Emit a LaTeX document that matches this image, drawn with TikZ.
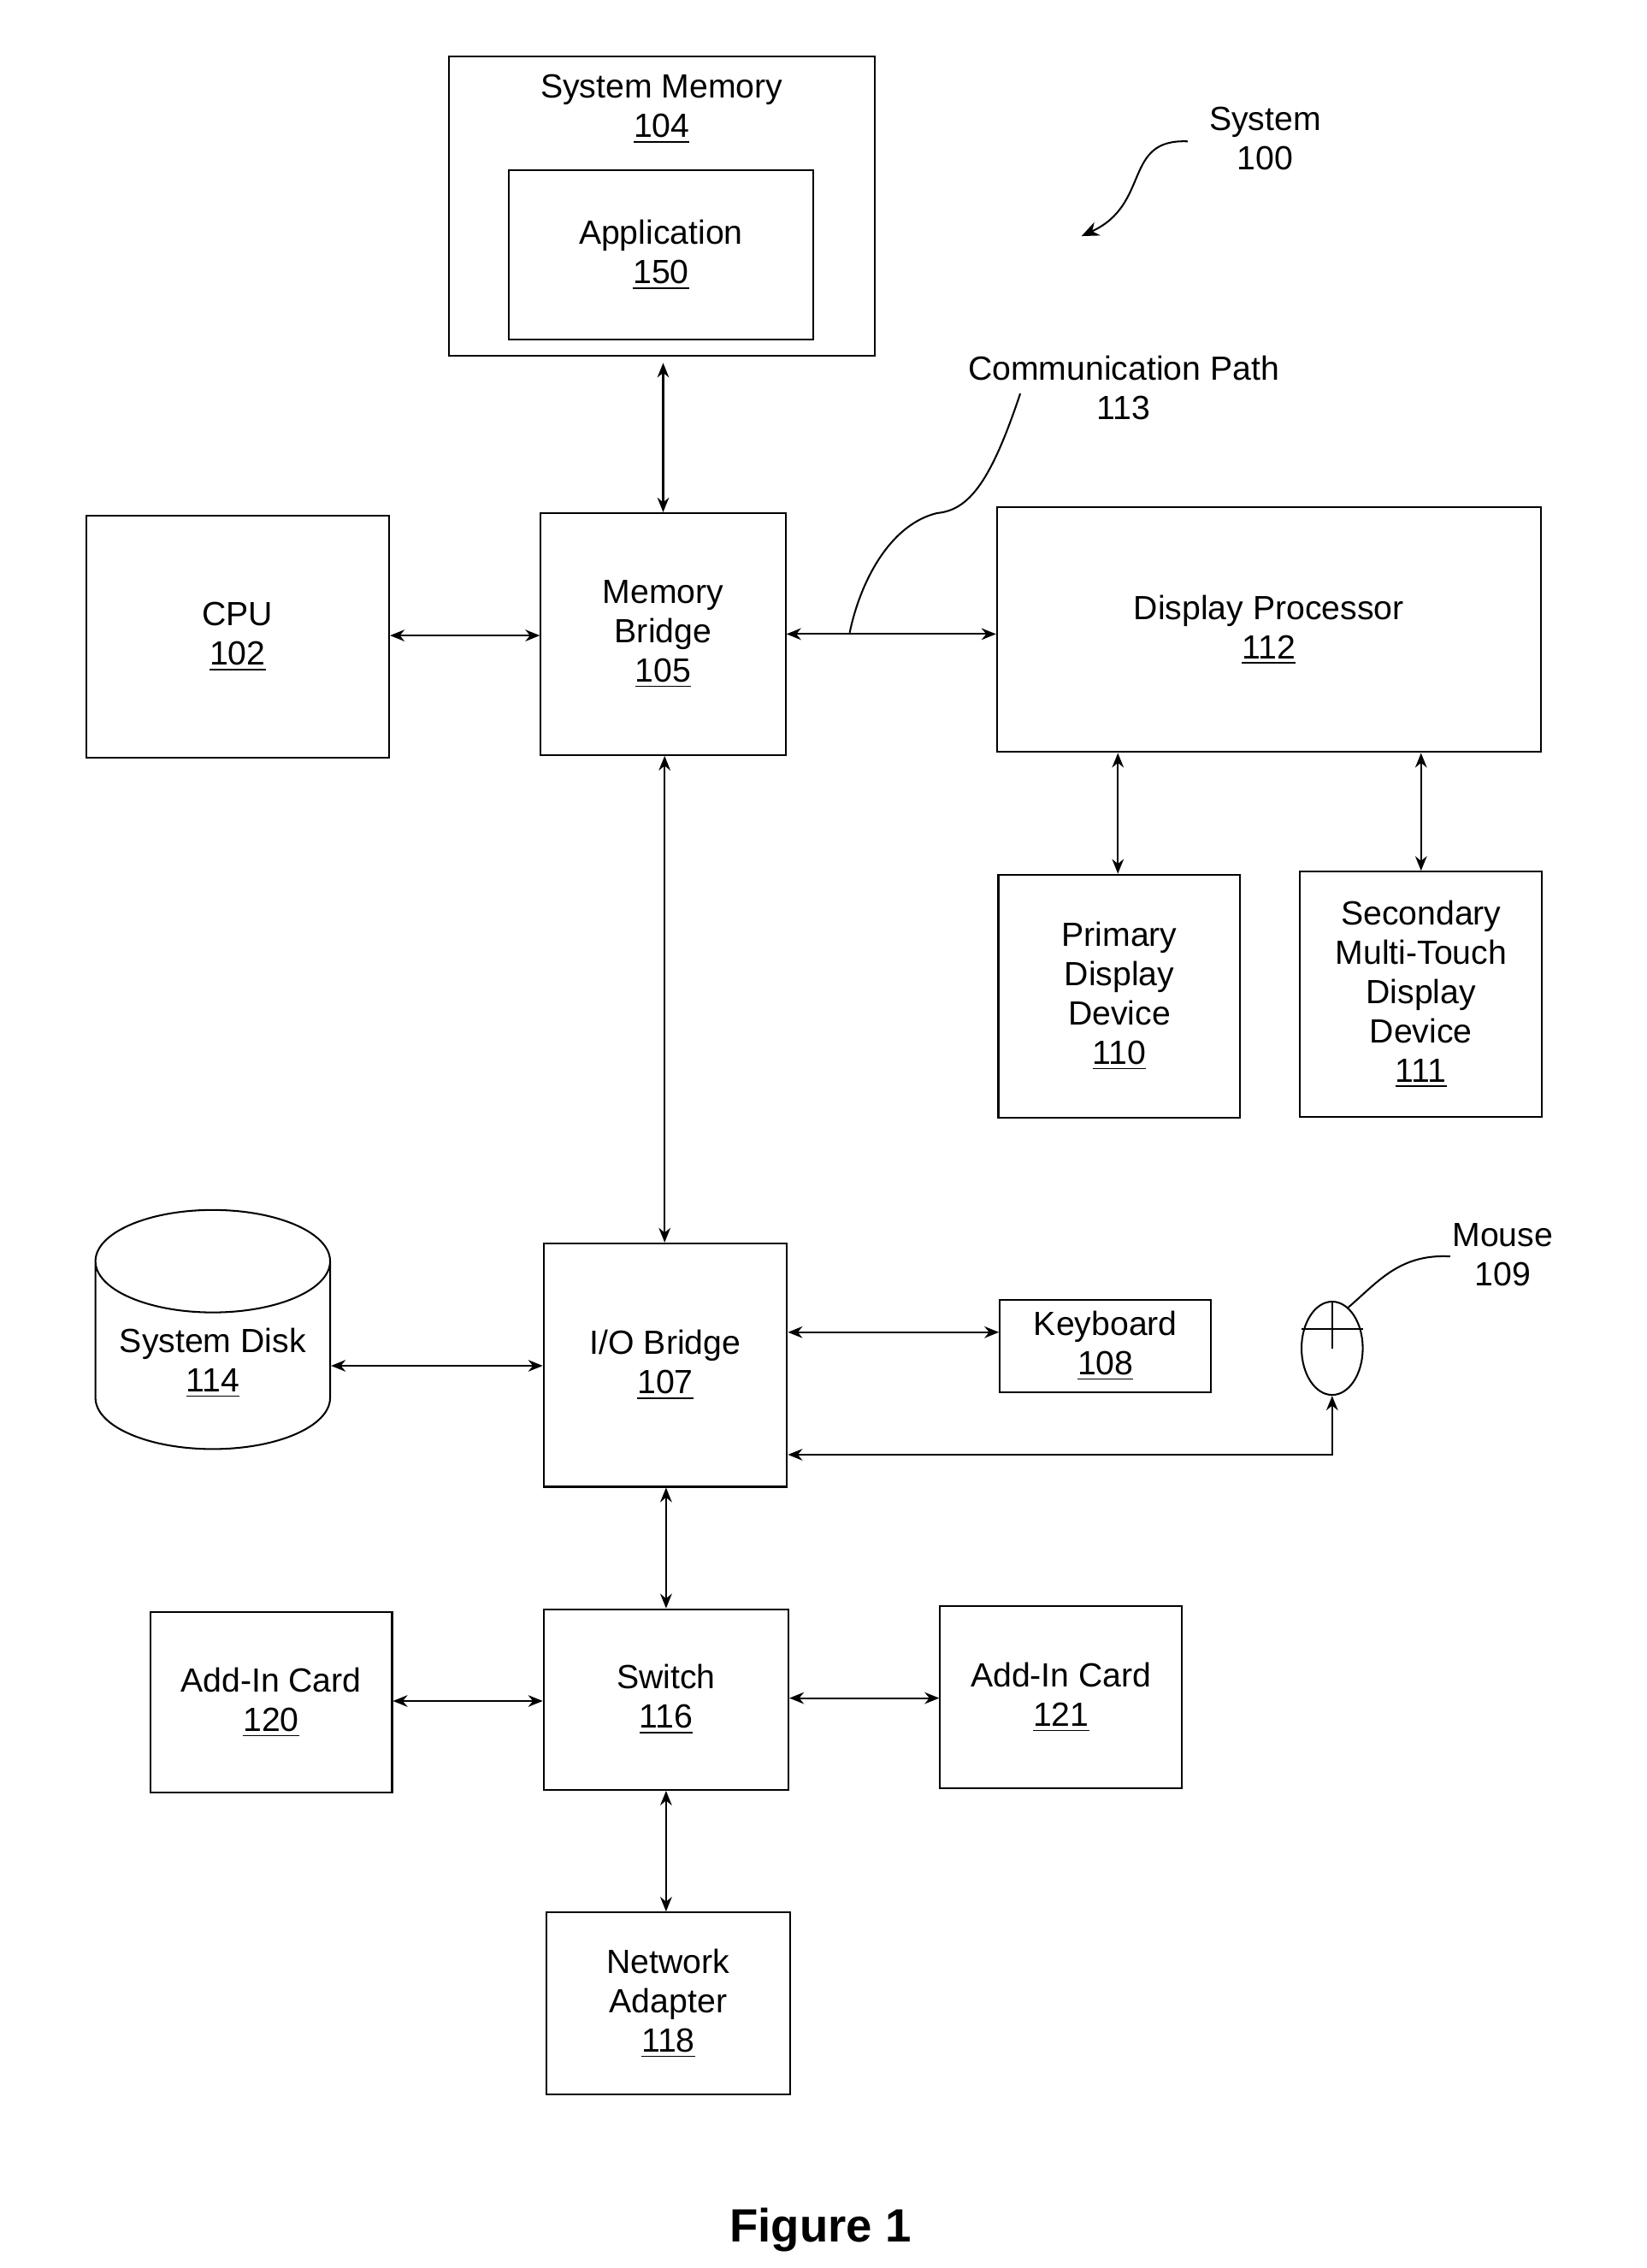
\documentclass[tikz,border=0pt]{standalone}
\usepackage{fontspec}
\setmainfont{Liberation Sans}
\usetikzlibrary{shapes.geometric,arrows.meta}
\begin{document}
\begin{tikzpicture}[x=0.5pt,y=-0.5pt,line width=0.6pt,
  box/.style={draw,rectangle,inner sep=0pt,align=center,font=\fontsize{11.5}{13.5}\selectfont},
  lbl/.style={align=center,font=\fontsize{11.5}{13.5}\selectfont},
  arr/.style={{Stealth[length=5pt,width=4pt]}-{Stealth[length=5pt,width=4pt]}}]
\useasboundingbox (0,0) rectangle (1130,1556);
\def\bx#1#2#3#4#5#6{\node[box,minimum width={(#4-#2)*0.5pt},minimum height={(#5-#3)*0.5pt}] (#1) at ({(#2+#4)/2},{(#3+#5)/2}) {#6};}
\bx{sm}{308}{39}{600}{244}{}
\node[lbl] (smt) at (454,75) {System Memory\\\underline{104}};
\bx{app}{349}{117}{558}{233}{Application\\\underline{150}}
\bx{cpu}{59}{354}{267}{520}{CPU\\\underline{102}}
\bx{mb}{371}{352}{539}{518}{Memory\\Bridge\\\underline{105}}
\bx{dp}{684}{348}{1057}{516}{Display Processor\\\underline{112}}
\bx{pd}{685}{600}{851}{767}{Primary\\Display\\Device\\\underline{110}}
\bx{sd}{892}{598}{1058}{766}{Secondary\\Multi-Touch\\Display\\Device\\\underline{111}}
\bx{io}{373}{853}{540}{1020}{I/O Bridge\\\underline{107}}
\bx{kb}{686}{892}{831}{955}{Keyboard\\\underline{108}}
\bx{sw}{373}{1104}{541}{1228}{Switch\\\underline{116}}
\bx{a120}{103}{1106}{269}{1230}{Add-In Card\\\underline{120}}
\bx{a121}{645}{1102}{811}{1227}{Add-In Card\\\underline{121}}
\bx{na}{375}{1312}{542}{1437}{Network\\Adapter\\\underline{118}}
% disk
\node[draw,cylinder,shape border rotate=90,aspect=0.55,minimum width=80.5pt,minimum height=70pt,inner sep=0pt,align=center,font=\fontsize{11.5}{13.5}\selectfont] (disk) at (146,930) {\\System Disk\\\underline{114}};
% mouse
\node[draw,ellipse,minimum width=21pt,minimum height=32pt,inner sep=0pt] (mouse) at (914,925) {};
\draw (mouse.north) -- (914,925);
\draw (mouse.west) ++(1,-2) coordinate (mw);
\draw (893,912) -- (935,912);
\node[lbl] (ml) at (1031,861) {Mouse\\109};
\draw (925,897) .. controls (945,880) and (960,860) .. (995,862);
% labels
\node[lbl] (sys) at (868,95) {System\\100};
\coordinate (s1) at (815,97);
\coordinate (s2) at (742,162);
\draw[-{Stealth[length=6pt,width=5pt]}] (s1) .. controls (770,95) and (790,140) .. (s2);
\node[lbl] (cp) at (771,266) {Communication Path\\113};
\coordinate (c1) at (700,270);
\coordinate (c2) at (583,434);
\draw (c1) .. controls (680,330) and (665,350) .. (643,352) .. controls (610,360) and (590,400) .. (c2);
% connectors
\draw[arr] (455,249) -- (mb.north -| 455,0);
\draw[arr] (cpu.east |- 0,436) -- (mb.west |- 0,436);
\draw[arr] (mb.east |- 0,435) -- (dp.west |- 0,435);
\draw[arr] (dp.south -| 767,0) -- (pd.north -| 767,0);
\draw[arr] (dp.south -| 975,0) -- (sd.north -| 975,0);
\draw[arr] (mb.south -| 456,0) -- (io.north -| 456,0);
\draw[arr] (disk.east |- 0,937) -- (io.west |- 0,937);
\draw[arr] (io.east |- 0,914) -- (kb.west |- 0,914);
\draw[arr] (io.east |- 0,998) -- (914,998) -- (mouse.south);
\draw[arr] (io.south -| 457,0) -- (sw.north -| 457,0);
\draw[arr] (a120.east |- 0,1167) -- (sw.west |- 0,1167);
\draw[arr] (sw.east |- 0,1165) -- (a121.west |- 0,1165);
\draw[arr] (sw.south -| 457,0) -- (na.north -| 457,0);
\node[font=\fontsize{16}{18}\selectfont\bfseries] (fig) at (563,1530) {Figure 1};
\end{tikzpicture}
\end{document}
